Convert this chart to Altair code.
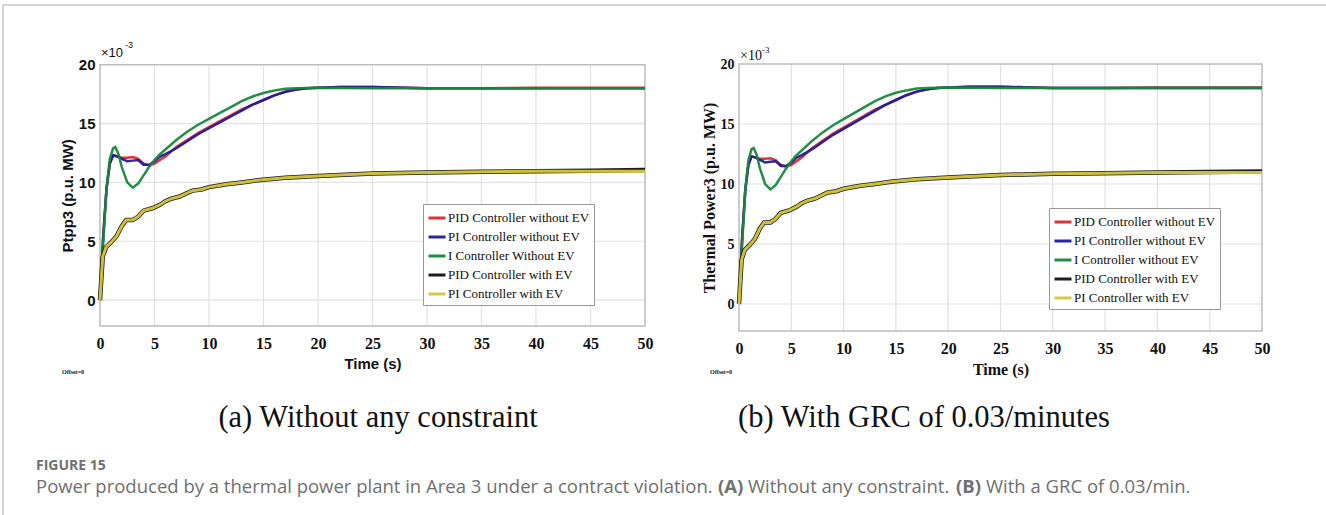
import altair as alt
import pandas as pd

# ---------------- data (values in units of 1e-3 p.u. MW) ----------------
T_NOEV = [0, 0.3, 0.6, 0.9, 1.2, 1.6, 2.0, 2.5, 3.0, 3.5, 4.0, 4.5, 5.0, 5.5, 6.0,
          7, 8, 9, 10, 11, 12, 13, 14, 15, 16, 17, 18, 19, 20, 22, 25, 28, 30, 35, 40, 45, 50]
PID_NOEV = [0, 5.5, 9.5, 11.6, 12.3, 12.2, 12.1, 12.1, 12.15, 12.0, 11.6, 11.45, 11.6, 11.9, 12.2,
            13.0, 13.6, 14.2, 14.7, 15.2, 15.7, 16.2, 16.6, 17.0, 17.4, 17.7, 17.9, 18.0, 18.05,
            18.1, 18.1, 18.05, 18.0, 18.0, 18.05, 18.05, 18.05]
PI_NOEV = [0, 5.5, 9.5, 11.6, 12.3, 12.2, 12.0, 11.8, 11.85, 11.9, 11.5, 11.5, 11.8, 12.2, 12.4,
           12.9, 13.5, 14.1, 14.6, 15.1, 15.6, 16.1, 16.6, 17.0, 17.4, 17.7, 17.9, 18.0, 18.05,
           18.1, 18.1, 18.05, 18.0, 18.0, 18.0, 18.0, 18.0]
T_I = [0, 0.3, 0.6, 0.9, 1.2, 1.4, 1.7, 2.0, 2.5, 3.0, 3.5, 4.0, 4.5, 5.0, 5.5, 6.0,
       7, 8, 9, 10, 11, 12, 13, 14, 15, 16, 17, 18, 20, 25, 30, 35, 40, 45, 50]
I_NOEV = [0, 5.0, 9.5, 12.0, 12.9, 13.0, 12.4, 11.3, 10.0, 9.55, 9.9, 10.6, 11.3, 11.9, 12.4, 12.8,
          13.6, 14.3, 14.9, 15.4, 15.9, 16.4, 16.9, 17.3, 17.6, 17.8, 17.95, 18.0, 18.05,
          18.0, 18.0, 18.0, 18.0, 18.0, 18.0]
T_EV = [0, 0.25, 0.55, 1.0, 1.5, 2.0, 2.4, 3.0, 3.5, 4.0, 4.8, 5.5, 6.0, 6.5, 7.3, 8.0, 8.5,
        9.3, 10, 11.6, 13, 14.7, 17, 20, 25, 30, 35, 40, 45, 50]
PID_EV = [0, 3.7, 4.5, 4.9, 5.4, 6.3, 6.8, 6.8, 7.1, 7.6, 7.8, 8.1, 8.4, 8.6, 8.8, 9.1, 9.3,
          9.4, 9.6, 9.85, 10.0, 10.2, 10.4, 10.55, 10.75, 10.85, 10.9, 10.95, 11.0, 11.05]
PI_EV = [0, 3.7, 4.5, 4.9, 5.4, 6.3, 6.8, 6.8, 7.1, 7.6, 7.8, 8.1, 8.4, 8.6, 8.8, 9.1, 9.3,
         9.4, 9.6, 9.85, 10.0, 10.2, 10.4, 10.55, 10.75, 10.85, 10.9, 10.95, 10.95, 10.95]

X_TICKS = [0, 5, 10, 15, 20, 25, 30, 35, 40, 45, 50]
Y_TICKS = [0, 5, 10, 15, 20]

LABELS_A = ["PID Controller without EV", "PI Controller without EV", "I Controller Without EV",
            "PID Controller with EV", "PI Controller with EV"]
LABELS_B = ["PID Controller without EV", "PI Controller without EV", "I Controller without EV",
            "PID Controller with EV", "PI Controller with EV"]
COLORS = ["#e3262b", "#1c1c9c", "#17893a", "#111111", "#d8c83a"]
WIDTHS = [2.5, 2.5, 2.5, 4.5, 3]

SERIES = [(T_NOEV, PID_NOEV), (T_NOEV, PI_NOEV), (T_I, I_NOEV), (T_EV, PID_EV), (T_EV, PI_EV)]

W, H = 1326, 515


def panel(labels, xr, yr, ymin, sans, ylabel, legx, legy):
    tick_font = "Liberation Sans Narrow" if sans else "Liberation Serif"
    title_font = "Liberation Sans" if sans else "Liberation Serif"
    xs = alt.Scale(domain=[0, 50], range=xr, nice=False, zero=False)
    ys = alt.Scale(domain=[ymin, 20], range=yr, nice=False, zero=False)
    xaxis = alt.Axis(orient="bottom", offset=-(H - yr[0]), values=X_TICKS, grid=False,
                     domain=False, ticks=False, labelFont=tick_font, labelFontWeight="bold",
                     labelFontSize=16, labelPadding=9, labelColor="#111", labelFlush=False,
                     labelOverlap=False, title="Time (s)", titleFont=title_font,
                     titleFontSize=15 if sans else 16, titleFontWeight="bold", titlePadding=5,
                     titleColor="#111")
    yaxis = alt.Axis(orient="left", offset=-xr[0], values=Y_TICKS, grid=False, domain=False,
                     ticks=False, labelFont="Liberation Sans" if sans else "Liberation Serif",
                     labelFontWeight="bold", labelFontSize=15 if sans else 14, labelPadding=5,
                     labelColor="#111", labelFlush=False, labelOverlap=False, title=ylabel,
                     titleFont=title_font, titleFontSize=15 if sans else 16,
                     titleFontWeight="bold", titlePadding=3, titleColor="#111")
    X = lambda f: alt.X(f, type="quantitative", scale=xs, axis=xaxis)
    Y = lambda f: alt.Y(f, type="quantitative", scale=ys, axis=yaxis)

    vgrid = pd.DataFrame({"t": X_TICKS[1:-1], "y": ymin, "y2": 20})
    hgrid = pd.DataFrame({"t": 0, "t2": 50, "y": Y_TICKS[:-1]})
    box = pd.DataFrame({"t": [0], "t2": [50], "y": [ymin], "y2": [20]})

    layers = [
        alt.Chart(vgrid).mark_rule(color="#e2e2e2", strokeWidth=1.2).encode(
            x=X("t"), y=Y("y"), y2="y2:Q"),
        alt.Chart(hgrid).mark_rule(color="#e2e2e2", strokeWidth=1.2).encode(
            x=X("t"), x2="t2:Q", y=Y("y")),
        alt.Chart(box).mark_rect(fillOpacity=0, stroke="#bdbdbd", strokeWidth=1.5).encode(
            x=X("t"), x2="t2:Q", y=Y("y"), y2="y2:Q"),
    ]
    color = alt.Color("series:N", title=None,
                      scale=alt.Scale(domain=labels, range=COLORS),
                      legend=alt.Legend(orient="none", legendX=legx, legendY=legy,
                                        direction="vertical", symbolType="stroke",
                                        symbolSize=289, symbolStrokeWidth=3,
                                        labelFont="Liberation Serif", labelFontSize=13,
                                        labelColor="#111", labelLimit=400, rowPadding=2,
                                        padding=4, strokeColor="#999", fillColor="white",
                                        labelOffset=1, zindex=5))
    for (tt, vv), name, w in zip(SERIES, labels, WIDTHS):
        df = pd.DataFrame({"t": tt, "y": vv, "series": name})
        layers.append(alt.Chart(df).mark_line(strokeWidth=w, opacity=0.95).encode(
            x=X("t"), y=Y("y"), color=color, order="t:Q"))
    return alt.layer(*layers)


left = panel(LABELS_A, [100, 645], [326, 64.7], -2.2, True, "Ptpp3 (p.u. MW)", 423, 204)
right = panel(LABELS_B, [739, 1262], [331, 64], -2.25, False, "Thermal Power3 (p.u. MW)", 1049, 208)

# ---------------- texts ----------------
CAP = "#707070"
texts = pd.DataFrame([
    {"s": "×10", "x": 101, "y": 53, "f": "Liberation Sans", "z": 13, "w": "normal", "c": "#111", "a": "left"},
    {"s": "-3", "x": 125, "y": 45, "f": "Liberation Sans", "z": 9, "w": "normal", "c": "#111", "a": "left"},
    {"s": "×10", "x": 740, "y": 56, "f": "Liberation Serif", "z": 14, "w": "normal", "c": "#111", "a": "left"},
    {"s": "-3", "x": 762, "y": 50, "f": "Liberation Serif", "z": 9, "w": "normal", "c": "#111", "a": "left"},
    {"s": "Offset=0", "x": 62, "y": 372, "f": "Liberation Sans Narrow", "z": 6, "w": "bold", "c": "#111", "a": "left"},
    {"s": "Offset=0", "x": 710, "y": 372, "f": "Liberation Sans Narrow", "z": 6, "w": "bold", "c": "#111", "a": "left"},
    {"s": "(a) Without any constraint", "x": 378, "y": 418, "f": "Liberation Serif", "z": 30.5, "w": "normal", "c": "#111", "a": "center"},
    {"s": "(b) With GRC of 0.03/minutes", "x": 924, "y": 418, "f": "Liberation Serif", "z": 30.5, "w": "normal", "c": "#111", "a": "center"},
    {"s": "FIGURE 15", "x": 36, "y": 466, "f": "Open Sans", "z": 14, "w": "bold", "c": CAP, "a": "left"},
    {"s": "Power produced by a thermal power plant in Area 3 under a contract violation.", "x": 36, "y": 487, "f": "Open Sans", "z": 18.5, "w": "normal", "c": CAP, "a": "left"},
    {"s": "(A)", "x": 718, "y": 487, "f": "Open Sans", "z": 18.5, "w": "bold", "c": CAP, "a": "left"},
    {"s": "Without any constraint.", "x": 748, "y": 487, "f": "Open Sans", "z": 18.5, "w": "normal", "c": CAP, "a": "left"},
    {"s": "(B)", "x": 956, "y": 487, "f": "Open Sans", "z": 18.5, "w": "bold", "c": CAP, "a": "left"},
    {"s": "With a GRC of 0.03/min.", "x": 986, "y": 487, "f": "Open Sans", "z": 18.5, "w": "normal", "c": CAP, "a": "left"},
])

text_layers = []
for _, r in texts.iterrows():
    text_layers.append(
        alt.Chart(pd.DataFrame({"s": [r["s"]]})).mark_text(
            font=r["f"], fontSize=float(r["z"]), fontWeight=r["w"], color=r["c"],
            align=r["a"], baseline="middle").encode(
            text="s:N", x=alt.value(float(r["x"])), y=alt.value(float(r["y"]))))

frame = pd.DataFrame({"k": [0]})
frame_top = alt.Chart(frame).mark_rule(color="#d4d4d4", strokeWidth=2).encode(
    x=alt.value(3), x2=alt.value(W), y=alt.value(5))
frame_left = alt.Chart(frame).mark_rule(color="#d4d4d4", strokeWidth=2).encode(
    x=alt.value(3), y=alt.value(5), y2=alt.value(H))

chart = alt.layer(frame_top, frame_left, left, right, *text_layers).resolve_scale(
    x="independent", y="independent", color="independent"
).properties(
    width=W, height=H, padding=0, autosize=alt.AutoSizeParams(type="none"),
    background="white"
).configure_view(strokeWidth=0)

chart.save("out.html", embed_options={"renderer": "svg", "actions": False})
